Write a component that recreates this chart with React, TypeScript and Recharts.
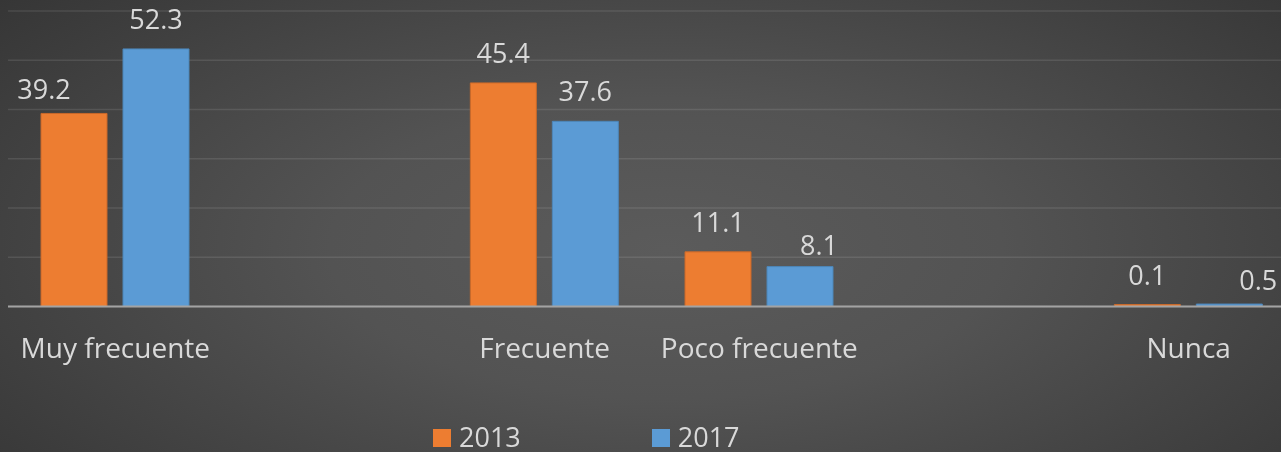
import { Bar, BarChart, CartesianGrid, LabelList, XAxis, YAxis } from "recharts";

// two empty slots keep the uneven spacing of the original chart
const categories = ["Muy frecuente", "", "Frecuente", "Poco frecuente", "", "Nunca"];
const values2013: (number | null)[] = [39.2, null, 45.4, 11.1, null, 0.1];
const values2017: (number | null)[] = [52.3, null, 37.6, 8.1, null, 0.5];
const yTicks = [0, 10, 20, 30, 40, 50, 60];

const ORANGE = "#ED7D31";
const BLUE = "#5B9BD5";
const TEXT = "#d9d9d9";
const FONT = "'Open Sans', sans-serif";

// hand-moved data labels in the source chart (dx, dy from the default spot)
const LABEL_NUDGE: Record<string, [number, number]> = {
  "2013|Muy frecuente": [-30, 6],
  "2017|Frecuente": [19, 8],
  "2017|Poco frecuente": [29, 6],
  "2017|Nunca": [19, 0],
};

const data = categories.map((name, i) => ({
  name,
  y2013: values2013[i],
  y2017: values2017[i],
}));

function makeLabel(series: string) {
  return (props: any) => {
    const { x, y, width, value, index } = props;
    if (value == null) return null;
    const [dx, dy] = LABEL_NUDGE[`${series}|${categories[index]}`] ?? [0, 0];
    return (
      <text
        x={x + width / 2 + dx}
        y={y - 20 + dy}
        textAnchor="middle"
        fill={TEXT}
        fontSize={27}
        fontFamily={FONT}
      >
        {value}
      </text>
    );
  };
}

export default function App() {
  return (
    <div
      style={{
        position: "fixed",
        left: 0,
        top: 0,
        width: 1281,
        height: 452,
        overflow: "hidden",
        background:
          "radial-gradient(ellipse 75% 95% at 52% 55%, #5b5b5b 0%, #535353 35%, #313131 100%)",
        fontFamily: FONT,
      }}
    >
      <BarChart
        width={1296}
        height={452}
        data={data}
        margin={{ top: 11, right: 0, bottom: 85.5, left: 8 }}
        barSize={66}
        barGap={16}
      >
        <CartesianGrid vertical={false} stroke="rgba(255,255,255,0.1)" strokeWidth={1.5} />
        <YAxis hide domain={[0, 60]} ticks={yTicks} />
        <XAxis
          dataKey="name"
          height={60}
          interval={0}
          tickLine={false}
          tickSize={0}
          tickMargin={32}
          axisLine={{ stroke: "#a3a3a3", strokeWidth: 2 }}
          tick={{ fill: TEXT, fontSize: 28, fontFamily: FONT }}
        />
        <Bar
          dataKey="y2013"
          fill={ORANGE}
          stroke="#c9692a"
          strokeWidth={1}
          minPointSize={2}
          isAnimationActive={false}
        >
          <LabelList dataKey="y2013" content={makeLabel("2013")} />
        </Bar>
        <Bar
          dataKey="y2017"
          fill={BLUE}
          stroke="#4d86b8"
          strokeWidth={1}
          minPointSize={2}
          isAnimationActive={false}
        >
          <LabelList dataKey="y2017" content={makeLabel("2017")} />
        </Bar>
      </BarChart>
      <div
        style={{
          position: "absolute",
          top: 423,
          left: 433,
          display: "flex",
          alignItems: "center",
          color: TEXT,
          fontSize: 27,
          lineHeight: "27px",
        }}
      >
        <span style={{ width: 18, height: 18, background: ORANGE, display: "inline-block", marginTop: 3 }} />
        <span style={{ marginLeft: 8 }}>2013</span>
        <span
          style={{ width: 18, height: 18, background: BLUE, display: "inline-block", marginTop: 3, marginLeft: 131 }}
        />
        <span style={{ marginLeft: 8 }}>2017</span>
      </div>
    </div>
  );
}
